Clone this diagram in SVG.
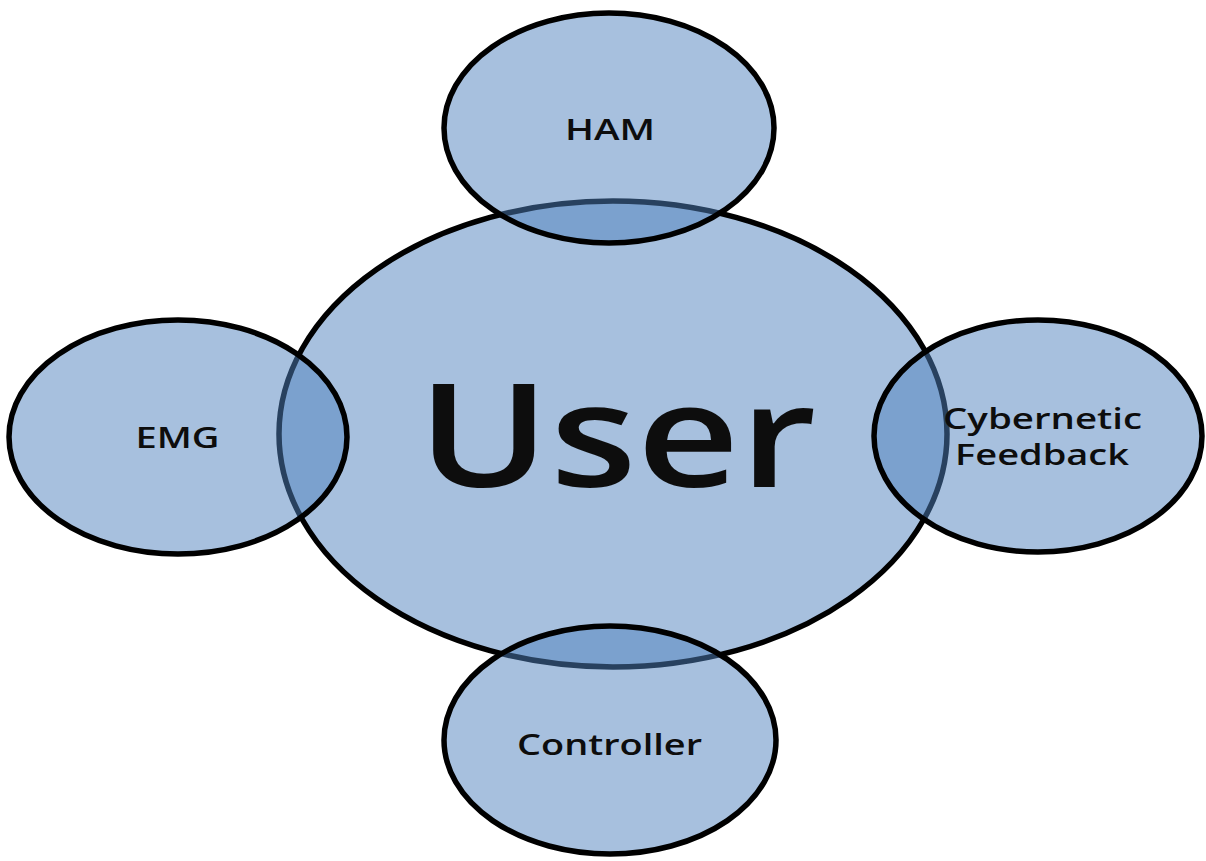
<svg xmlns="http://www.w3.org/2000/svg" width="1206" height="861" viewBox="0 0 1206 861">
<style>
.n{fill:#4F81BD;fill-opacity:0.5;stroke:#000;stroke-width:5.5}
.t{font-family:"Open Sans","Liberation Sans",sans-serif;font-weight:600;fill:#0d0d0d;text-anchor:middle}
.s{font-size:28px}
</style>
<rect width="1206" height="861" fill="#fff"/>
<g id="user">
<ellipse class="n" cx="613" cy="434" rx="334" ry="233"/>
<text class="t" x="617" y="487" font-size="143" textLength="399" lengthAdjust="spacingAndGlyphs">User</text>
</g>
<g id="ham">
<ellipse class="n" cx="609" cy="128" rx="165" ry="115"/>
<text class="t s" x="610" y="140" textLength="90" lengthAdjust="spacingAndGlyphs">HAM</text>
</g>
<g id="emg">
<ellipse class="n" cx="178" cy="437" rx="169" ry="117"/>
<text class="t s" x="177.5" y="448" textLength="84" lengthAdjust="spacingAndGlyphs">EMG</text>
</g>
<g id="cybernetic-feedback">
<ellipse class="n" cx="1038" cy="436" rx="164" ry="116"/>
<text class="t s" x="1042.5" y="429" textLength="199" lengthAdjust="spacingAndGlyphs">Cybernetic</text>
<text class="t s" x="1042" y="465" textLength="174" lengthAdjust="spacingAndGlyphs">Feedback</text>
</g>
<g id="controller">
<ellipse class="n" cx="610" cy="740" rx="166" ry="114"/>
<text class="t s" x="609.5" y="755" textLength="185" lengthAdjust="spacingAndGlyphs">Controller</text>
</g>
<g id="connectors"/>
</svg>
